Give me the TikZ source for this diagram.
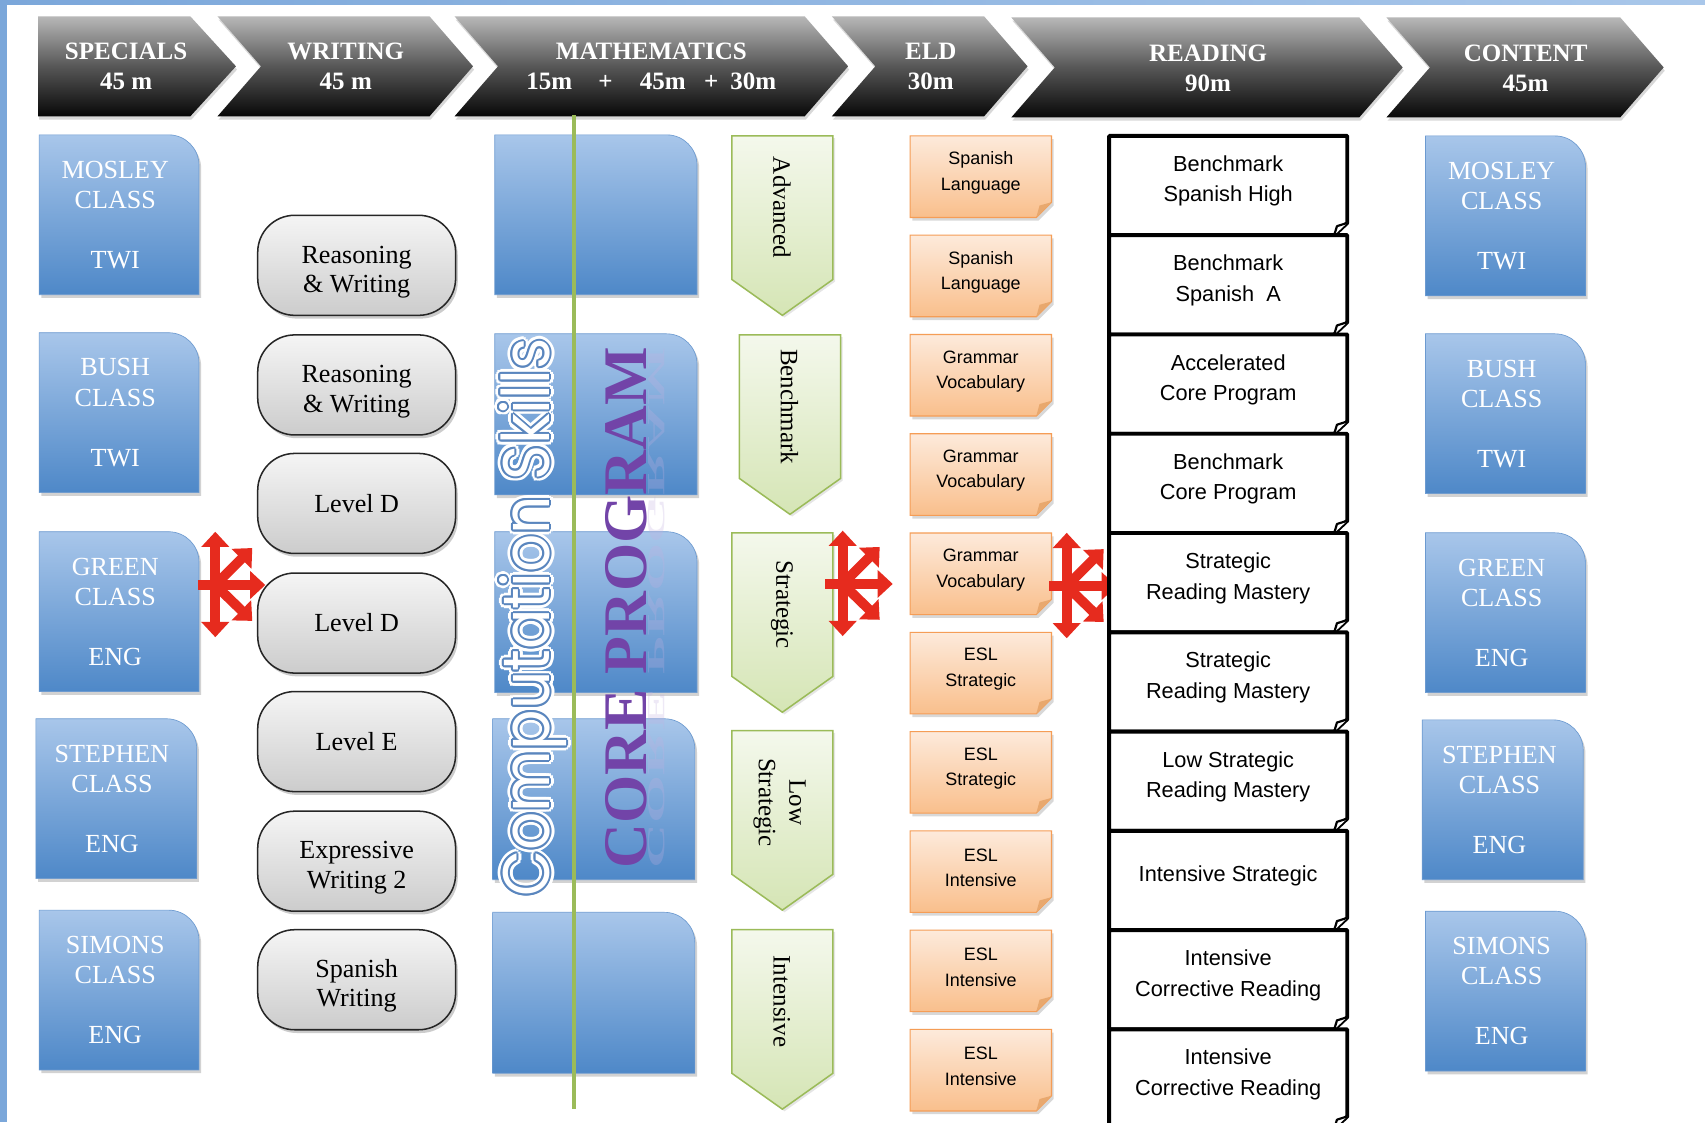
\documentclass[tikz,border=0pt]{standalone}
\usepackage{graphicx}
\usepackage{fontspec}
\setmainfont{Liberation Serif}
\newfontfamily\sansfont{Liberation Sans}
\newfontfamily\geofont{Poppins}
\usetikzlibrary{shadows,arrows.meta,calc}

\definecolor{skyA}{HTML}{A8C6EA}
\definecolor{skyB}{HTML}{4E88C8}
\definecolor{skyEdge}{HTML}{6C9AD0}
\definecolor{leafEdge}{HTML}{9BBB59}
\definecolor{leafA}{HTML}{F4F8EC}
\definecolor{leafB}{HTML}{D5E5B5}
\definecolor{peachA}{HTML}{FDEADB}
\definecolor{peachB}{HTML}{F9BF8C}
\definecolor{peachEdge}{HTML}{F59D56}
\definecolor{peachFold}{HTML}{E8A86E}
\definecolor{alarm}{HTML}{E62B1E}
\definecolor{grape}{HTML}{7244A8}
\definecolor{grapeGhost}{HTML}{C2B0E0}
\definecolor{outlineBlue}{HTML}{5A86BE}
\definecolor{frameBlue}{HTML}{7BA7DA}
\definecolor{frameBlueLight}{HTML}{A9C7EA}

\tikzset{
  chevron/.style={top color=black!28, bottom color=black!97, middle color=black!66,
    drop shadow={shadow xshift=1pt, shadow yshift=-3pt, opacity=0.3}},
  headtext/.style={text=white, font=\bfseries\fontsize{23}{27}\selectfont, align=center, inner sep=0pt},
  bluefill/.style={top color=skyA, bottom color=skyB, draw=skyEdge, line width=0.6pt,
    drop shadow={shadow xshift=2pt, shadow yshift=-3pt, opacity=0.35}},
  classtext/.style={text=white, font=\fontsize{24}{28}\selectfont, align=center, inner sep=0pt},
  pill/.style={rectangle, rounded corners=34pt, minimum width=182pt, minimum height=92pt,
    top color=black!4, bottom color=black!20, draw=black!85, line width=1.4pt,
    font=\fontsize{24}{27}\selectfont, align=center,
    drop shadow={shadow xshift=2pt, shadow yshift=-3pt, opacity=0.4}},
  leaf/.style={top color=leafA, bottom color=leafB, draw=leafEdge, line width=1.4pt,
    drop shadow={shadow xshift=2pt, shadow yshift=-2pt, opacity=0.2}},
  leaftext/.style={rotate=-90, font=\fontsize{23}{28}\selectfont, align=center, inner sep=0pt},
  notefill/.style={top color=peachA, bottom color=peachB, draw=peachEdge, line width=1pt,
    drop shadow={shadow xshift=2pt, shadow yshift=-3pt, opacity=0.3}},
  notetext/.style={font=\sansfont\fontsize{16.5}{23.5}\selectfont, align=center, inner sep=0pt},
  readframe/.style={fill=white, draw=black, line width=3.6pt, line join=round},
  readtext/.style={font=\sansfont\fontsize{20}{28}\selectfont, align=center, inner sep=0pt},
  alarmline/.style={draw=alarm, line width=9pt, line cap=butt},
  alarmtip/.style={-{Triangle[width=25pt,length=14pt]}},
  compword/.style={rotate=90, inner sep=0pt},
  corework/.style={rotate=90, inner sep=0pt, font=\bfseries\fontsize{57}{57}\selectfont},
  pics/bluebox/.style 2 args={code={
    \path[bluefill] (0,0) -- ({#1-28},0) .. controls ({#1-12.5},0) and (#1,12.5) .. (#1,28)
      -- (#1,#2) -- (0,#2) -- cycle;
  }},
  pics/leafarrow/.style={code={
    \path[leaf] (0,0) -- (93,0) -- (93,132) -- (46.5,165) -- (0,132) -- cycle;
  }},
  pics/note/.style={code={
    \path[notefill] (0,0) -- (130,0) -- (130,61) -- (116,75) -- (0,75) -- cycle;
    \fill[peachFold] (130,61) -- (119,64) -- (116,75) -- cycle;
  }},
  pics/readbox/.style={code={
    \path[readframe] (0,0) -- (219,0) -- (219,80) -- (207,91.3) -- (0,91.3) -- cycle;
    \draw[fill=white, line width=2pt, line join=round] (207,91.3) -- (209.5,83) -- (219,80);
  }},
  pics/alarmstar/.style={code={
    \draw[alarmline, {Triangle[width=25pt,length=14pt]}-{Triangle[width=25pt,length=14pt]}] (0,-49) -- (0,48);
    \draw[alarmline, alarmtip] (-16,0) -- (46,0);
    \draw[alarmline, alarmtip] (0,0) -- (34,-34);
    \draw[alarmline, alarmtip] (0,0) -- (34,33);
  }},
}
% taller first line, so a two-line label sits a little lower in its pill
\newcommand\lowfirst{\rule{0pt}{28pt}}

\begin{document}
\begin{tikzpicture}[x=1pt,y=-1pt]
\useasboundingbox (0,0) rectangle (1568,1032);
\fill[white] (0,0) rectangle (1568,1032);

% frame strips
\fill[left color=frameBlue, right color=frameBlueLight] (0,0) rectangle (1568,4);
\fill[frameBlue] (0,0) rectangle (6,1032);

% ---------- header chevrons ----------
\path[chevron] (35,15) -- (175,15) -- (217,61) -- (175,107) -- (35,107) -- cycle;
\path[chevron] (200,15) -- (395,15) -- (435,61) -- (395,107) -- (200,107) -- (240,61) -- cycle;
\path[chevron] (418,15) -- (740,15) -- (780,61) -- (740,107) -- (418,107) -- (458,61) -- cycle;
\path[chevron] (765,15) -- (905,15) -- (945,61) -- (905,107) -- (765,107) -- (805,61) -- cycle;
\path[chevron] (930,16) -- (1250,16) -- (1290,62) -- (1250,108) -- (930,108) -- (970,62) -- cycle;
\path[chevron] (1275,16) -- (1490,16) -- (1530,62) -- (1490,108) -- (1275,108) -- (1315,62) -- cycle;

\node[headtext] (hSpecials) at (116,61) {SPECIALS\\45 m};
\node[headtext] (hWriting) at (318,61) {WRITING\\45 m};
\node[headtext] (hMath) at (599,61) {MATHEMATICS\\15m\hspace{24pt}+\hspace{25pt}45m\hspace{17pt}+\hspace{11pt}30m};
\node[headtext] (hEld) at (856,61) {ELD\\30m};
\node[headtext] (hReading) at (1111,63) {READING\\90m};
\node[headtext] (hContent) at (1403,63) {CONTENT\\45m};

% ---------- class boxes, left ----------
\pic at (36,124) {bluebox={147}{147}};
\pic at (36,306) {bluebox={147}{147}};
\pic at (36,489) {bluebox={147}{147}};
\pic at (33,661) {bluebox={148}{147}};
\pic at (36,837) {bluebox={147}{147}};
\node[classtext] (lMosley) at (106,197.5) {MOSLEY\\CLASS\\[27pt]TWI};
\node[classtext] (lBush) at (106,379.5) {BUSH\\CLASS\\[27pt]TWI};
\node[classtext] (lGreen) at (106,562.5) {GREEN\\CLASS\\[27pt]ENG};
\node[classtext] (lStephen) at (103,734.5) {STEPHEN\\CLASS\\[27pt]ENG};
\node[classtext] (lSimons) at (106,910.5) {SIMONS\\CLASS\\[27pt]ENG};

% ---------- class boxes, right ----------
\pic at (1311,125) {bluebox={147}{147}};
\pic at (1311,307) {bluebox={147}{147}};
\pic at (1311,490) {bluebox={147}{147}};
\pic at (1308,662) {bluebox={148}{147}};
\pic at (1311,838) {bluebox={147}{147}};
\node[classtext] (rMosley) at (1381,198.5) {MOSLEY\\CLASS\\[27pt]TWI};
\node[classtext] (rBush) at (1381,380.5) {BUSH\\CLASS\\[27pt]TWI};
\node[classtext] (rGreen) at (1381,563.5) {GREEN\\CLASS\\[27pt]ENG};
\node[classtext] (rStephen) at (1379,735.5) {STEPHEN\\CLASS\\[27pt]ENG};
\node[classtext] (rSimons) at (1381,911.5) {SIMONS\\CLASS\\[27pt]ENG};

% ---------- writing pills ----------
\node[pill] (pReasonA) at (328,244) {\lowfirst Reasoning\\\& Writing};
\node[pill] (pReasonB) at (328,354) {\lowfirst Reasoning\\\& Writing};
\node[pill] (pLevelDA) at (328,463) {Level D};
\node[pill] (pLevelDB) at (328,573) {Level D};
\node[pill] (pLevelE) at (328,682) {Level E};
\node[pill] (pExpressive) at (328,792) {\lowfirst Expressive\\Writing 2};
\node[pill] (pSpanish) at (328,901) {\lowfirst Spanish\\Writing};

% ---------- mathematics column ----------
\pic at (455,124) {bluebox={186}{147}};
\pic at (455,307) {bluebox={186}{148}};
\pic at (455,489) {bluebox={186}{148}};
\pic at (453,661) {bluebox={186}{148}};
\pic at (453,839) {bluebox={186}{148}};
\coordinate (lineTop) at (528,106);
\coordinate (lineBottom) at (528,1020);
\draw[leafEdge, line width=3.8pt] (lineTop) -- (lineBottom);

% outlined vertical title
\coordinate (cspot) at (490,568);
\foreach \a in {0,30,...,330}
  \node[compword, text=white] at ($(cspot)+(\a:4.5)$) {\resizebox{513pt}{46pt}{\geofont Computation Skills}};
\foreach \a in {0,30,...,330}
  \node[compword, text=outlineBlue] at ($(cspot)+(\a:1.8)$) {\resizebox{513pt}{46pt}{\geofont Computation Skills}};
\node[compword, text=white] (compSkills) at (cspot) {\resizebox{513pt}{46pt}{\geofont Computation Skills}};

% purple title with its soft reflection
\node[corework, text=grapeGhost, opacity=0.28, anchor=north] (coreGhost) at (596,559)
  {\scalebox{1}[-0.4]{CORE PROGRAM}};
\node[corework, text=grape] (coreProgram) at (575.5,559) {CORE PROGRAM};

% ---------- level arrows ----------
\pic at (673,125) {leafarrow};
\pic at (680,308) {leafarrow};
\pic at (673,490) {leafarrow};
\pic at (673,672) {leafarrow};
\pic at (673,855) {leafarrow};
\node[leaftext] (aAdvanced) at (719,191) {Advanced};
\node[leaftext] (aBenchmark) at (726,374) {Benchmark};
\node[leaftext] (aStrategic) at (719,556) {Strategic};
\node[leaftext] (aLowStrategic) at (717,738) {Low\\Strategic};
\node[leaftext] (aIntensive) at (719,921) {Intensive};

% ---------- ELD notes ----------
\foreach \i/\txt [count=\k] in {
  0/{Spanish\\Language}, 1/{Spanish\\Language}, 2/{Grammar\\Vocabulary},
  3/{Grammar\\Vocabulary}, 4/{Grammar\\Vocabulary}, 5/{ESL\\Strategic},
  6/{ESL\\Strategic}, 7/{ESL\\Intensive}, 8/{ESL\\Intensive}, 9/{ESL\\Intensive}} {
  \pic at (837,{125+91.3*\i}) {note};
  \node[notetext] (eld\k) at (902,{159+91.3*\i}) {\txt};
}

% ---------- red connector stars ----------
\pic at (198,538) {alarmstar};
\pic at (775,537) {alarmstar};
\pic at (981,539) {alarmstar};

% ---------- reading boxes ----------
\foreach \i/\txt [count=\k] in {
  0/{Benchmark\\Spanish High}, 1/{Benchmark\\Spanish\ \ A}, 2/{Accelerated\\Core Program},
  3/{Benchmark\\Core Program}, 4/{Strategic\\Reading Mastery}, 5/{Strategic\\Reading Mastery},
  6/{Low Strategic\\Reading Mastery}, 7/{Intensive Strategic}, 8/{Intensive\\Corrective Reading},
  9/{Intensive\\Corrective Reading}} {
  \pic at (1020,{125+91.3*\i}) {readbox};
  \node[readtext] (read\k) at (1129.5,{166.5+91.3*\i}) {\txt};
}
\end{tikzpicture}
\end{document}
